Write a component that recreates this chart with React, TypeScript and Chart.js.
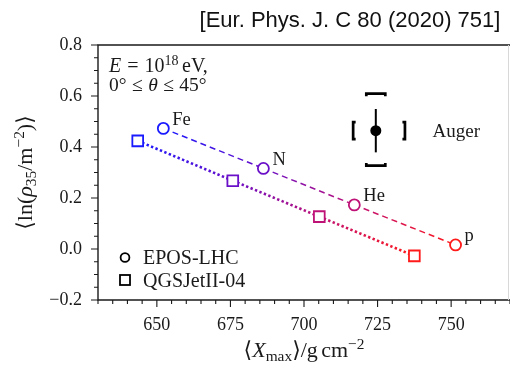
import React, { useEffect, useRef } from 'react';
import { Chart, registerables } from 'chart.js';

Chart.register(...registerables);

// ---- data ----
const elements = ['Fe', 'N', 'He', 'p'];
const eposXmax = [652.2, 686.2, 717.1, 751.5];
const eposLnRho = [0.473, 0.316, 0.173, 0.016];
const qgsXmax = [643.5, 675.8, 705.2, 737.5];
const qgsLnRho = [0.424, 0.268, 0.127, -0.027];
const augerXmax = [724.4];
const augerLnRho = [0.464];
const augerStatLnRho = [0.085];
const augerSysLnRhoUp = [0.145];
const augerSysLnRhoDown = [0.137];
const augerSysXmaxDown = [7.7];
const augerSysXmaxUp = [9.9];
const xMajorTicks = [650, 675, 700, 725, 750];
const yMajorTicks = [-0.2, 0.0, 0.2, 0.4, 0.6, 0.8];

// ---- styles ----
const elementColors = ['#1a1aff', '#6a10c8', '#bf1277', '#ff1a1a'];
const SERIF = '"Liberation Serif", "DejaVu Serif", serif';
const SANS = '"Liberation Sans", Arial, sans-serif';
const INK = '#1a1a1a';

type Run = { t: string; s?: number; dy?: number; it?: boolean; gap?: number };

function fontOf(r: Run, size: number) {
  const sz = size * (r.s ?? 1);
  return `${r.it ? 'italic ' : ''}${sz}px ${SERIF}`;
}

function drawRich(ctx: CanvasRenderingContext2D, runs: Run[], x: number, y: number, size: number, align: 'left' | 'center') {
  let w = 0;
  for (const r of runs) {
    ctx.font = fontOf(r, size);
    w += ctx.measureText(r.t).width + (r.gap ?? 0) * size;
  }
  let cx = align === 'center' ? x - w / 2 : x;
  ctx.textAlign = 'left';
  ctx.textBaseline = 'alphabetic';
  for (const r of runs) {
    ctx.font = fontOf(r, size);
    ctx.fillText(r.t, cx, y + (r.dy ?? 0));
    cx += ctx.measureText(r.t).width + (r.gap ?? 0) * size;
  }
}

const near = (v: number, list: number[]) => list.some((m) => Math.abs(m - v) < 1e-6);

const decorPlugin = {
  id: 'decor',
  beforeDatasetsDraw(chart: any) {
    const ctx: CanvasRenderingContext2D = chart.ctx;
    const xs = chart.scales.x;
    const ys = chart.scales.y;
    // Auger error bars
    const x = xs.getPixelForValue(augerXmax[0]);
    const y = ys.getPixelForValue(augerLnRho[0]);
    ctx.save();
    ctx.strokeStyle = '#000';
    ctx.lineCap = 'butt';
    ctx.lineWidth = 2;
    ctx.beginPath();
    ctx.moveTo(x, ys.getPixelForValue(augerLnRho[0] + augerStatLnRho[0]));
    ctx.lineTo(x, ys.getPixelForValue(augerLnRho[0] - augerStatLnRho[0]));
    ctx.stroke();
    const capHalf = 9.5;
    const hook = 2.5;
    ctx.lineWidth = 2.7;
    const top = ys.getPixelForValue(augerLnRho[0] + augerSysLnRhoUp[0]);
    const bot = ys.getPixelForValue(augerLnRho[0] - augerSysLnRhoDown[0]);
    ctx.beginPath();
    ctx.moveTo(x - capHalf, top + hook);
    ctx.lineTo(x - capHalf, top);
    ctx.lineTo(x + capHalf, top);
    ctx.lineTo(x + capHalf, top + hook);
    ctx.moveTo(x - capHalf, bot - hook);
    ctx.lineTo(x - capHalf, bot);
    ctx.lineTo(x + capHalf, bot);
    ctx.lineTo(x + capHalf, bot - hook);
    const left = xs.getPixelForValue(augerXmax[0] - augerSysXmaxDown[0]);
    const right = xs.getPixelForValue(augerXmax[0] + augerSysXmaxUp[0]);
    const bh = 8.5;
    ctx.moveTo(left + hook, y - bh);
    ctx.lineTo(left, y - bh);
    ctx.lineTo(left, y + bh);
    ctx.lineTo(left + hook, y + bh);
    ctx.moveTo(right - hook, y - bh);
    ctx.lineTo(right, y - bh);
    ctx.lineTo(right, y + bh);
    ctx.lineTo(right - hook, y + bh);
    ctx.stroke();
    ctx.restore();
  },
  afterDraw(chart: any) {
    const ctx: CanvasRenderingContext2D = chart.ctx;
    const xs = chart.scales.x;
    const ys = chart.scales.y;
    const a = chart.chartArea;
    ctx.save();
    // frame
    ctx.strokeStyle = INK;
    ctx.lineWidth = 1.4;
    ctx.beginPath();
    ctx.moveTo(a.right, a.top);
    ctx.lineTo(a.left, a.top);
    ctx.lineTo(a.left, a.bottom);
    ctx.lineTo(a.right, a.bottom);
    ctx.stroke();
    ctx.strokeStyle = '#d8d8d8';
    ctx.lineWidth = 1;
    ctx.beginPath();
    ctx.moveTo(a.right - 1.5, a.top);
    ctx.lineTo(a.right - 1.5, a.bottom);
    ctx.stroke();
    // ticks
    ctx.strokeStyle = INK;
    ctx.lineWidth = 1.1;
    ctx.beginPath();
    for (let v = 630; v <= 770 + 1e-6; v += 5) {
      const px = xs.getPixelForValue(v);
      const len = near(v, xMajorTicks) ? 7 : 4;
      ctx.moveTo(px, a.bottom);
      ctx.lineTo(px, a.bottom + len);
    }
    for (let i = 0; i <= 20; i++) {
      const v = -0.2 + i * 0.05;
      const py = ys.getPixelForValue(v);
      const len = near(v, yMajorTicks) ? 7 : 4;
      ctx.moveTo(a.left, py);
      ctx.lineTo(a.left - len, py);
    }
    ctx.stroke();

    ctx.fillStyle = INK;
    // element labels
    const meta = chart.getDatasetMeta(0);
    meta.data.forEach((pt: any, i: number) => {
      ctx.font = `18.5px ${SERIF}`;
      ctx.textAlign = 'left';
      ctx.textBaseline = 'alphabetic';
      ctx.fillText(elements[i], pt.x + 9, pt.y - 3.5);
    });

    // Auger label
    ctx.font = `19px ${SERIF}`;
    ctx.fillText('Auger', 432.5, 136.5);

    // annotation
    drawRich(ctx, [
      { t: 'E', it: true, gap: 0.3 },
      { t: '=', gap: 0.3 },
      { t: '10' },
      { t: '18', s: 0.7, dy: -7.5, gap: 0.18 },
      { t: 'eV,' },
    ], 109, 72, 20, 'left');
    drawRich(ctx, [
      { t: '0°', gap: 0.28 },
      { t: '≤', gap: 0.28 },
      { t: 'θ', it: true, gap: 0.28 },
      { t: '≤', gap: 0.28 },
      { t: '45°' },
    ], 109, 91, 19.5, 'left');

    // legend
    ctx.strokeStyle = '#000';
    ctx.lineWidth = 1.8;
    ctx.beginPath();
    ctx.arc(125, 257.5, 4.4, 0, Math.PI * 2);
    ctx.stroke();
    ctx.strokeRect(120, 275, 10, 10);
    ctx.fillStyle = INK;
    ctx.font = `20px ${SERIF}`;
    ctx.textAlign = 'left';
    ctx.textBaseline = 'alphabetic';
    ctx.fillText('EPOS-LHC', 143, 263.5);
    ctx.fillText('QGSJetII-04', 143, 286.5);

    // x axis title
    drawRich(ctx, [
      { t: '⟨' },
      { t: 'X', it: true },
      { t: 'max', s: 0.7, dy: 4 },
      { t: '⟩/g', gap: 0.15 },
      { t: 'cm' },
      { t: '−2', s: 0.7, dy: -8 },
    ], (a.left + a.right) / 2, 357, 22, 'center');

    // y axis title
    ctx.save();
    ctx.translate(32, (a.top + a.bottom) / 2);
    ctx.rotate(-Math.PI / 2);
    drawRich(ctx, [
      { t: '⟨ln(' },
      { t: 'ρ', it: true },
      { t: '35', s: 0.7, dy: 4 },
      { t: '/m' },
      { t: '−2', s: 0.7, dy: -8 },
      { t: ')⟩' },
    ], 0, 0, 22, 'center');
    ctx.restore();

    // top title
    ctx.font = `22px ${SANS}`;
    ctx.textAlign = 'center';
    ctx.textBaseline = 'alphabetic';
    ctx.fillStyle = '#111';
    ctx.fillText('[Eur. Phys. J. C 80 (2020) 751]', 350, 27);
    ctx.restore();
  },
};

function segColor(c: any) {
  const g = c.chart.ctx.createLinearGradient(c.p0.x, c.p0.y, c.p1.x, c.p1.y);
  g.addColorStop(0, elementColors[c.p0DataIndex]);
  g.addColorStop(1, elementColors[c.p1DataIndex]);
  return g;
}

export default function App() {
  const ref = useRef<HTMLCanvasElement>(null);
  useEffect(() => {
    if (!ref.current) return;
    const chart = new Chart(ref.current, {
      type: 'scatter',
      data: {
        datasets: [
          {
            label: 'EPOS-LHC',
            data: eposXmax.map((x, i) => ({ x, y: eposLnRho[i] })),
            showLine: true,
            tension: 0,
            borderWidth: 1.5,
            borderDash: [6, 4],
            borderColor: elementColors[0],
            segment: { borderColor: segColor },
            pointStyle: 'circle',
            pointRadius: 5.5,
            pointBorderWidth: 1.8,
            pointBorderColor: elementColors,
            pointBackgroundColor: '#ffffff',
          },
          {
            label: 'QGSJetII-04',
            data: qgsXmax.map((x, i) => ({ x, y: qgsLnRho[i] })),
            showLine: true,
            tension: 0,
            borderWidth: 2.6,
            borderDash: [2.4, 2.4],
            borderColor: elementColors[0],
            segment: { borderColor: segColor },
            pointStyle: 'rect',
            pointRadius: 7.6,
            pointBorderWidth: 1.8,
            pointBorderColor: elementColors,
            pointBackgroundColor: '#ffffff',
          },
          {
            label: 'Auger',
            data: augerXmax.map((x, i) => ({ x, y: augerLnRho[i] })),
            showLine: false,
            pointStyle: 'circle',
            pointRadius: 5.5,
            pointBorderWidth: 0,
            pointBackgroundColor: '#000',
            pointBorderColor: '#000',
          },
        ],
      },
      options: {
        animation: false,
        responsive: false,
        events: [],
        layout: { autoPadding: false, padding: { top: 45, right: 0, left: 0, bottom: 0 } },
        plugins: { legend: { display: false }, tooltip: { enabled: false } },
        scales: {
          x: {
            type: 'linear',
            min: 630,
            max: 770,
            grid: { display: false, drawTicks: true, tickLength: 14 },
            border: { display: false },
            ticks: {
              stepSize: 5,
              autoSkip: false,
              maxRotation: 0,
              padding: 0,
              color: INK,
              font: { family: SERIF, size: 18 },
              callback: (v: any) => (near(Number(v), xMajorTicks) ? String(v) : ''),
            },
            afterFit: (s: any) => { s.height = 65; s.paddingLeft = 0; s.paddingRight = 0; },
          },
          y: {
            type: 'linear',
            min: -0.2,
            max: 0.8,
            grid: { display: false, drawTicks: true, tickLength: 16 },
            border: { display: false },
            ticks: {
              stepSize: 0.05,
              autoSkip: false,
              padding: 0,
              color: INK,
              font: { family: SERIF, size: 18 },
              callback: (v: any) => {
                const n = Number(v);
                if (!near(n, yMajorTicks)) return '';
                const r = Math.round(n * 10) / 10;
                return (r < 0 ? '−' : '') + Math.abs(r).toFixed(1);
              },
            },
            afterFit: (s: any) => { s.width = 98; s.paddingTop = 0; s.paddingBottom = 0; },
          },
        },
      },
      plugins: [decorPlugin],
    } as any);
    return () => chart.destroy();
  }, []);
  return (
    <div style={{ position: 'fixed', left: 0, top: 0, width: 510, height: 365, overflow: 'hidden', background: '#fff' }}>
      <canvas ref={ref} width={510} height={365} style={{ width: 510, height: 365, display: 'block' }} />
    </div>
  );
}
